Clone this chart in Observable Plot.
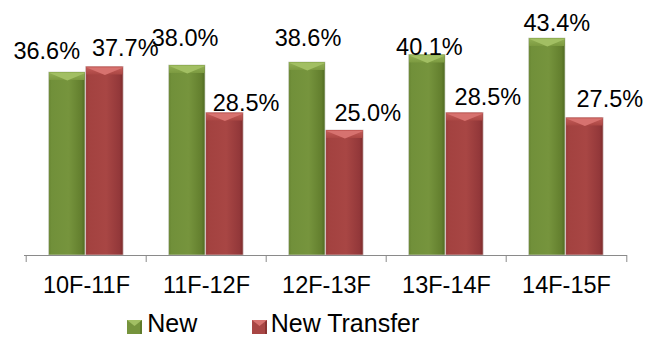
<!DOCTYPE html>
<html>
<head>
<meta charset="utf-8">
<script src="https://cdn.jsdelivr.net/npm/d3@7"></script>
<script src="https://cdn.jsdelivr.net/npm/@observablehq/plot@0.6"></script>
<style>
  html, body { margin: 0; padding: 0; background: #fff; }
  body { font-family: "Liberation Sans", Arial, sans-serif; width: 647px; overflow: hidden; }
  #legend { position: relative; width: 647px; height: 37px; }
  #legend .sw { position: absolute; top: 20px; width: 15px; height: 14px; }
  #legend .lb { position: absolute; top: 12.8px; font-size: 25px; line-height: 20px; height: 20px; color: #000; white-space: nowrap; }
</style>
</head>
<body>
<div id="chart"></div>
<div id="legend"></div>
<script>
// Cohort periods and the share of each student group
const periods = ["10F-11F", "11F-12F", "12F-13F", "13F-14F", "14F-15F"];
const series = ["New", "New Transfer"];
const newValues = [36.6, 38.0, 38.6, 40.1, 43.4];
const transferValues = [37.7, 28.5, 25.0, 28.5, 27.5];

// Label placement (pixel offsets from the band centre / bar top)
const newLabelOffsets = [[-39.8, -13.7], [-21.4, -19.3], [-18.5, -17], [-17.1, -0.5], [-9.7, -8]];
const transferLabelOffsets = [[38.7, -11.5], [39.6, -2.5], [41.2, -9.3], [41.4, -8.5], [43.3, -11.5]];

const W = 647, H = 300;
const mL = 24, mR = 20, mT = 5, mB = 45;
const band = (W - mL - mR) / periods.length;

const rowsNew = periods.map((p, i) => ({period: p, series: series[0], value: newValues[i]}));
const rowsTransfer = periods.map((p, i) => ({period: p, series: series[1], value: transferValues[i]}));

// bar geometry inside each band
const greenInset = [22.7, band / 2 + 0.7];
const redInset = [band / 2 - 0.6, 22.9];
const greenMid = (greenInset[0] + (band - greenInset[1])) / 2 - band / 2;
const redMid = (redInset[0] + (band - redInset[1])) / 2 - band / 2;
const greenW = band - greenInset[0] - greenInset[1];
const redW = band - redInset[0] - redInset[1];
const capDepth = 1.6; // top bevel, in percentage points

// downward "V" facet of the bevelled bar top
const vShape = (w, h) => ({
  draw(ctx) {
    ctx.moveTo(-w / 2, 0);
    ctx.lineTo(w / 2, 0);
    ctx.lineTo(0, h);
    ctx.closePath();
  }
});

const fmt = v => v.toFixed(1) + "%";
const labelFont = 23.5;

const labelMarks = [
  ...rowsNew.map((d, k) => Plot.text([d], {
    x: "period", y: "value", text: r => fmt(r.value),
    dx: newLabelOffsets[k][0], dy: newLabelOffsets[k][1],
    lineAnchor: "bottom", textAnchor: "middle", fontSize: labelFont, fill: "#000"
  })),
  ...rowsTransfer.map((d, k) => Plot.text([d], {
    x: "period", y: "value", text: r => fmt(r.value),
    dx: transferLabelOffsets[k][0], dy: transferLabelOffsets[k][1],
    lineAnchor: "bottom", textAnchor: "middle", fontSize: labelFont, fill: "#000"
  }))
];

const svg = Plot.plot({
  width: W,
  height: H,
  marginLeft: mL,
  marginRight: mR,
  marginTop: mT,
  marginBottom: mB,
  x: {type: "band", domain: periods, padding: 0, axis: null},
  y: {domain: [0, 50], axis: null},
  style: {fontFamily: "'Liberation Sans', Arial, sans-serif", background: "#fff", overflow: "visible"},
  marks: [
    // bar bodies
    Plot.barY(rowsNew, {x: "period", y: "value", insetLeft: greenInset[0], insetRight: greenInset[1],
      fill: "url(#bodyGreen)", stroke: "#c9cfc0", strokeWidth: 0.7}),
    Plot.barY(rowsTransfer, {x: "period", y: "value", insetLeft: redInset[0], insetRight: redInset[1],
      fill: "url(#bodyRed)", stroke: "#d2c4c4", strokeWidth: 0.7}),
    // bevelled tops
    Plot.barY(rowsNew, {x: "period", y1: d => d.value - capDepth, y2: "value",
      insetLeft: greenInset[0] + 0.4, insetRight: greenInset[1] + 0.4, fill: "url(#capGreen)"}),
    Plot.barY(rowsTransfer, {x: "period", y1: d => d.value - capDepth, y2: "value",
      insetLeft: redInset[0] + 0.4, insetRight: redInset[1] + 0.4, fill: "url(#capRed)"}),
    Plot.dot(rowsNew, {x: "period", y: "value", dx: greenMid, dy: 0.4,
      symbol: vShape(greenW - 1, 7.6), fill: "#a2bf63", stroke: "none"}),
    Plot.dot(rowsTransfer, {x: "period", y: "value", dx: redMid, dy: 0.4,
      symbol: vShape(redW - 1, 7.6), fill: "#d7726f", stroke: "none"}),
    // category axis: baseline, separators between groups, labels
    Plot.ruleY([0], {stroke: "#8a8a8a", strokeWidth: 1}),
    Plot.ruleX(periods, {x: d => d, dx: -band / 2, y1: 0, y2: -1.4, stroke: "#8a8a8a", strokeWidth: 1}),
    Plot.ruleX(periods.slice(-1), {x: d => d, dx: band / 2, y1: 0, y2: -1.4, stroke: "#8a8a8a", strokeWidth: 1}),
    Plot.text(periods, {x: d => d, y: 0, dy: 21, lineAnchor: "top", textAnchor: "middle", fontSize: 23.5, fill: "#000"}),
    ...labelMarks
  ]
});

// gradients used by the bars
const defs = d3.select(svg).insert("defs", ":first-child");
function grad(id, vertical, stops) {
  const g = defs.append("linearGradient").attr("id", id)
    .attr("x1", 0).attr("y1", 0).attr("x2", vertical ? 0 : 1).attr("y2", vertical ? 1 : 0);
  stops.forEach(([o, c]) => g.append("stop").attr("offset", o).attr("stop-color", c));
}
grad("bodyGreen", false, [[0, "#678431"], [0.08, "#71903a"], [0.55, "#76943d"], [0.9, "#637f2e"], [1, "#506a22"]]);
grad("bodyRed", false, [[0, "#983a38"], [0.08, "#a34240"], [0.55, "#a84644"], [0.9, "#93383a"], [1, "#7d2b2a"]]);
grad("capGreen", true, [[0, "#92b055"], [1, "#7c9a40"]]);
grad("capRed", true, [[0, "#c65d5a"], [1, "#ab4744"]]);

document.getElementById("chart").appendChild(svg);

// legend
const legendColors = {
  "New": ["#76943d", "#a2bf63", "#5f7b2c"],
  "New Transfer": ["#a84644", "#d7726f", "#8a3331"]
};
const legendPos = [[126.7, 147.3], [251.7, 270.7]];
const legend = document.getElementById("legend");
series.forEach((s, i) => {
  const [body, light, dark] = legendColors[s];
  const sw = document.createElementNS("http://www.w3.org/2000/svg", "svg");
  sw.setAttribute("class", "sw");
  sw.setAttribute("width", 15);
  sw.setAttribute("height", 14);
  sw.style.left = legendPos[i][0] + "px";
  sw.innerHTML = `<rect x="0" y="0" width="15" height="14" fill="${body}"/>` +
    `<rect x="13" y="0" width="2" height="14" fill="${dark}"/>` +
    `<polygon points="0,0 15,0 7.5,6" fill="${light}"/>`;
  legend.appendChild(sw);
  const lb = document.createElement("div");
  lb.className = "lb";
  lb.style.left = legendPos[i][1] + "px";
  lb.textContent = s;
  legend.appendChild(lb);
});
</script>
</body>
</html>
